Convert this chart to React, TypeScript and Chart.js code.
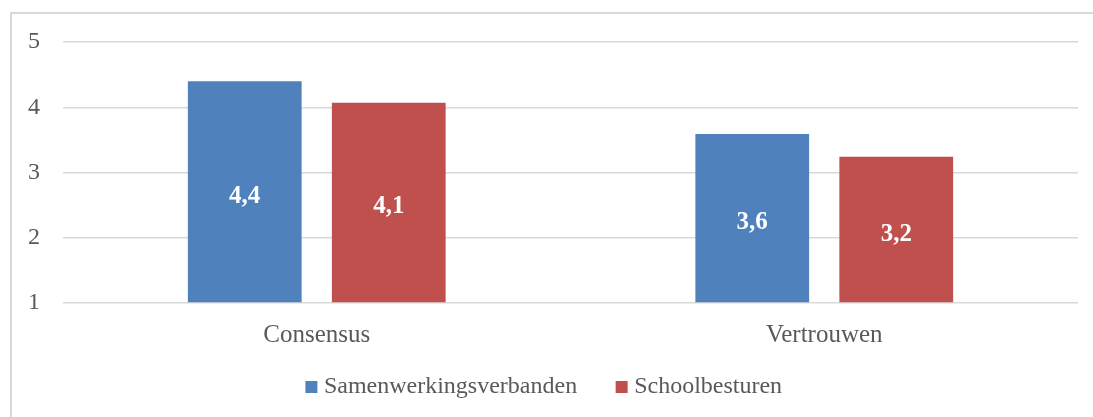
import React, { useEffect, useRef } from "react";
import { Chart, registerables } from "chart.js";

Chart.register(...registerables);

const categories = ["Consensus", "Vertrouwen"];
const seriesNames = ["Samenwerkingsverbanden", "Schoolbesturen"];
const samenwerkingsverbanden = [4.4, 3.59];
const schoolbesturen = [4.07, 3.24];
const yTicks = [1, 2, 3, 4, 5];

const FONT = "'Liberation Serif', 'Times New Roman', serif";
const TEXT = "#595959";

const valueLabels = {
  id: "valueLabels",
  afterDatasetsDraw(chart: any) {
    const ctx = chart.ctx;
    ctx.save();
    ctx.font = `bold 25px ${FONT}`;
    ctx.fillStyle = "#ffffff";
    ctx.textAlign = "center";
    ctx.textBaseline = "alphabetic";
    chart.data.datasets.forEach((ds: any, di: number) => {
      const meta = chart.getDatasetMeta(di);
      meta.data.forEach((el: any, i: number) => {
        const v = ds.data[i] as number;
        const txt = v.toFixed(1).replace(".", ",");
        const base = Math.min(el.base, chart.chartArea.bottom);
        ctx.fillText(txt, el.x, (el.y + base) / 2 + 11);
      });
    });
    ctx.restore();
  },
};

const legendShift = {
  id: "legendShift",
  afterLayout(chart: any) {
    const lg = chart.legend;
    if (!lg) return;
    lg.top = 331;
    lg.bottom = 417;
    lg.height = 86;
  },
};

export default function App() {
  const ref = useRef<HTMLCanvasElement>(null);
  useEffect(() => {
    if (!ref.current) return;
    const chart = new Chart(ref.current, {
      type: "bar",
      data: {
        labels: categories,
        datasets: [
          {
            label: seriesNames[0],
            data: samenwerkingsverbanden,
            backgroundColor: "#4F81BD",
            base: 1,
            categoryPercentage: 0.5675,
            barPercentage: 0.79,
          },
          {
            label: seriesNames[1],
            data: schoolbesturen,
            backgroundColor: "#C0504D",
            base: 1,
            categoryPercentage: 0.5675,
            barPercentage: 0.79,
          },
        ],
      },
      plugins: [valueLabels, legendShift],
      options: {
        responsive: false,
        animation: false,
        layout: { padding: { top: 42, left: 0, right: 0, bottom: 0 } },
        plugins: {
          tooltip: { enabled: false },
          legend: {
            position: "bottom",
            maxHeight: 60,
            labels: {
              usePointStyle: true,
              pointStyle: "rect",
              boxWidth: 1,
              boxHeight: 12,
              padding: 44,
              color: TEXT,
              font: { family: FONT, size: 24 },
            },
          },
        },
        scales: {
          x: {
            grid: { display: false },
            border: { display: false },
            ticks: {
              color: TEXT,
              font: { family: FONT, size: 25 },
              padding: 9,
            },
            afterFit: (s: any) => {
              s.height = 54;
            },
          },
          y: {
            min: 1,
            max: 5,
            afterBuildTicks: (s: any) => {
              s.ticks = yTicks.map((v) => ({ value: v }));
            },
            grid: { color: "#d9d9d9", lineWidth: 1.5, drawTicks: false },
            border: { display: false },
            ticks: {
              color: TEXT,
              font: { family: FONT, size: 24 },
              padding: 23,
            },
            afterFit: (s: any) => {
              s.width = 63;
            },
          },
          y2: {
            position: "right",
            display: true,
            grid: { display: false },
            border: { display: false },
            ticks: { display: false },
            afterFit: (s: any) => {
              s.width = 15;
            },
          },
        },
      },
    });
    return () => chart.destroy();
  }, []);
  return (
    <div
      style={{
        position: "fixed",
        left: 0,
        top: 0,
        width: 1093,
        height: 417,
        overflow: "hidden",
        background: "#ffffff",
      }}
    >
      <div
        style={{
          position: "absolute",
          left: 10,
          top: 12,
          width: 1200,
          height: 500,
          border: "2px solid #d9d9d9",
        }}
      />
      <canvas
        ref={ref}
        width={1093}
        height={417}
        style={{ position: "absolute", left: 0, top: 0 }}
      />
    </div>
  );
}
